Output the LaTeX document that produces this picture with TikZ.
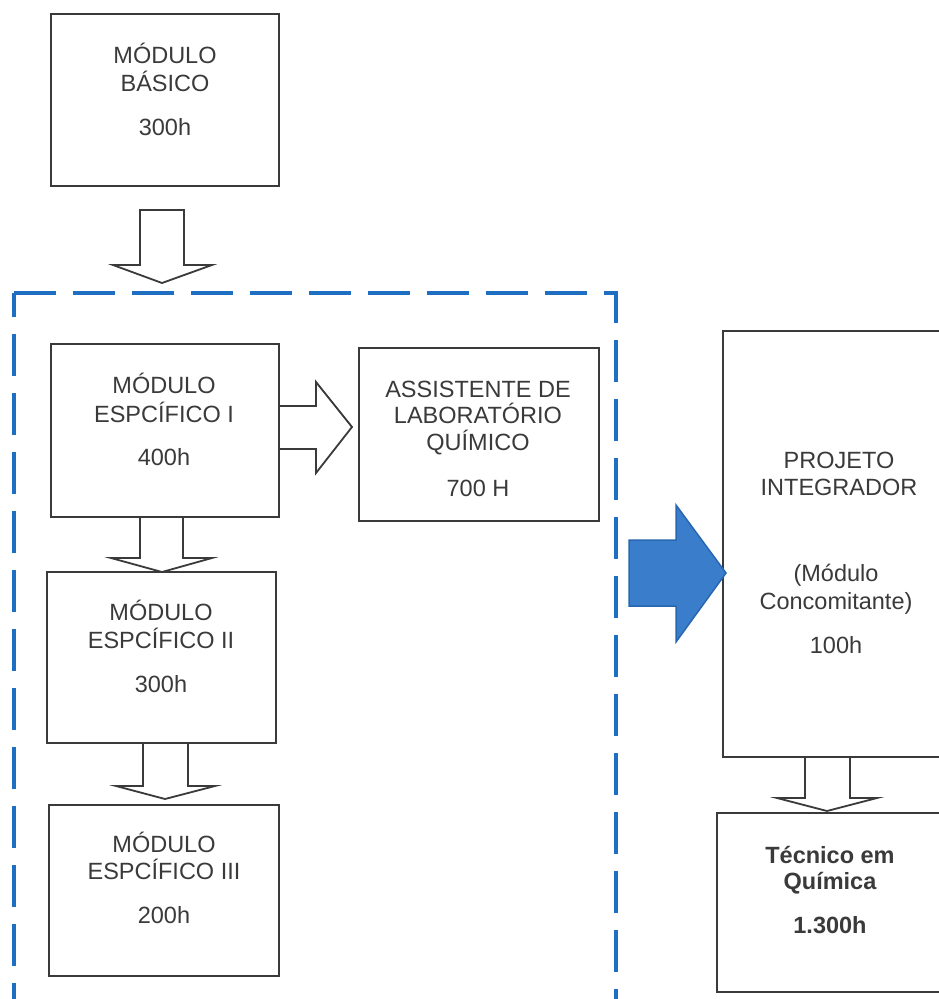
\documentclass[tikz,border=0pt]{standalone}
\usepackage{fontspec}
\setmainfont{Liberation Sans}
\definecolor{ink}{HTML}{3A3A3A}
\definecolor{frameblue}{HTML}{1E6FC2}
\definecolor{arrowfill}{HTML}{3A7DCB}
\definecolor{arrowedge}{HTML}{2767B2}
\begin{document}
\begin{tikzpicture}[x=1pt,y=-1pt,
  box/.style={draw=ink, line width=1.8pt, fill=white, inner sep=0pt},
  txt/.style={text=ink, font=\fontsize{23.5}{27}\selectfont, inner sep=0pt, anchor=base},
  btxt/.style={txt, font=\fontsize{23.5}{27}\selectfont\bfseries},
  hollow/.style={draw=ink, line width=1.8pt, fill=white, line join=miter},
  bluearrow/.style={fill=arrowfill, draw=arrowedge, line width=1.5pt, line join=miter},
  frame/.style={draw=frameblue, line width=4.5pt, dash pattern=on 42pt off 17pt}]
\useasboundingbox (0,0) rectangle (939,999);
\clip (0,0) rectangle (939,999);
\fill[white] (0,0) rectangle (939,999);

% dashed frame
\draw[frame] (14,293) -- (616,293) -- (616,1001) -- (14,1001) -- cycle;

% boxes
\node[box, minimum width=228pt, minimum height=172pt] (b0) at (165,100) {};
\node[box, minimum width=228pt, minimum height=173pt] (b1) at (165,430.5) {};
\node[box, minimum width=229pt, minimum height=171pt] (b2) at (161.5,657.5) {};
\node[box, minimum width=230pt, minimum height=171pt] (b3) at (164,890.5) {};
\node[box, minimum width=240pt, minimum height=173pt] (ba) at (479,434.5) {};
\node[box, minimum width=237pt, minimum height=426pt] (bp) at (841.5,544) {};
\node[box, minimum width=243pt, minimum height=179pt] (bt) at (838.5,902.5) {};

% hollow block arrows
\draw[hollow] (140,210) -- (184,210) -- (184,265) -- (212,265) -- (162,283)
  -- (113,265) -- (140,265) -- cycle;
\draw[hollow] (279,406) -- (316,406) -- (316,382) -- (352,427) -- (316,473)
  -- (316,449) -- (279,449) -- cycle;
\draw[hollow] (140,517) -- (183,517) -- (183,558) -- (212,558) -- (162,572)
  -- (111,558) -- (140,558) -- cycle;
\draw[hollow] (143,743) -- (188,743) -- (188,786) -- (215,786) -- (165,799)
  -- (116,786) -- (143,786) -- cycle;
\draw[hollow] (805,757) -- (850,757) -- (850,798) -- (877,798) -- (827,811)
  -- (777,798) -- (805,798) -- cycle;

% blue block arrow
\draw[bluearrow] (629,540) -- (676,540) -- (676,505) -- (726,573) -- (676,642)
  -- (676,606) -- (629,606) -- cycle;

% texts
\node[txt] (t0a) at (165,63) {MÓDULO};
\node[txt] (t0b) at (165,91) {BÁSICO};
\node[txt] (t0c) at (165,135) {300h};

\node[txt] (t1a) at (164,393) {MÓDULO};
\node[txt] (t1b) at (164,422) {ESPCÍFICO I};
\node[txt] (t1c) at (164,465) {400h};

\node[txt] (t2a) at (161,620) {MÓDULO};
\node[txt] (t2b) at (161,648) {ESPCÍFICO II};
\node[txt] (t2c) at (161,692) {300h};

\node[txt] (t3a) at (164,852) {MÓDULO};
\node[txt] (t3b) at (164,879) {ESPCÍFICO III};
\node[txt] (t3c) at (164,923) {200h};

\node[txt] (taa) at (478,397) {ASSISTENTE DE};
\node[txt] (tab) at (478,423) {LABORATÓRIO};
\node[txt] (tac) at (478,450) {QUÍMICO};
\node[txt] (tad) at (478,496) {700 H};

\node[txt] (tpa) at (839,468) {PROJETO};
\node[txt] (tpb) at (839,495) {INTEGRADOR};
\node[txt] (tpc) at (836,581) {(Módulo};
\node[txt] (tpd) at (836,609) {Concomitante)};
\node[txt] (tpe) at (836,653) {100h};

\node[btxt] (tta) at (830,863) {Técnico em};
\node[btxt] (ttb) at (830,889) {Química};
\node[btxt] (ttc) at (830,933) {1.300h};
\end{tikzpicture}
\end{document}
